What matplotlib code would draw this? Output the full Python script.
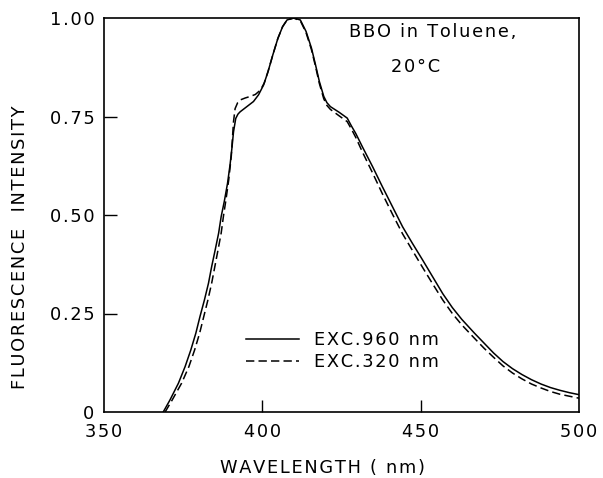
import matplotlib
matplotlib.use("Agg")
import matplotlib.pyplot as plt

# --- data ---
wl_960 = [368.7, 370.8, 373.5, 375.6, 377.4, 379.0, 380.3, 381.7, 383.0, 384.0, 385.1, 386.2,
          387.0, 388.0, 389.0, 389.8, 390.4, 390.9, 391.6, 392.3, 393.0, 395.1, 397.2, 398.8,
          400.4, 401.8, 403.3, 404.9, 406.4, 407.8, 409.9, 412.0, 413.8, 415.5, 416.8, 418.0,
          419.4, 420.4, 421.5, 424.2, 426.8, 428.2, 429.5, 431.6, 434.8, 437.9, 441.1, 444.3,
          447.4, 450.6, 453.8, 457, 460, 463, 467, 470, 473, 476, 479, 482, 485, 488, 491,
          494, 497, 500]
int_960 = [0.0, 0.03, 0.073, 0.115, 0.157, 0.20, 0.242, 0.284, 0.327, 0.369, 0.411, 0.454,
           0.496, 0.535, 0.58, 0.627, 0.67, 0.711, 0.745, 0.756, 0.762, 0.775, 0.788, 0.805,
           0.830, 0.864, 0.906, 0.948, 0.978, 0.995, 1.0, 0.995, 0.966, 0.924, 0.881, 0.839,
           0.801, 0.785, 0.775, 0.761, 0.746, 0.725, 0.707, 0.673, 0.623, 0.572, 0.521, 0.470,
           0.428, 0.386, 0.343, 0.30, 0.265, 0.235, 0.200, 0.175, 0.150, 0.128, 0.110, 0.095,
           0.082, 0.071, 0.062, 0.055, 0.049, 0.044]

wl_320 = [369.3, 371.5, 374.5, 376.8, 378.6, 380.2, 381.5, 382.8, 384.0, 385.0, 386.0, 387.0,
          387.7, 388.5, 389.4, 390.2, 390.9, 391.4, 392.2, 393.0, 394.6, 396.2, 397.8, 399.4,
          400.6, 401.8, 403.3, 404.9, 406.4, 407.8, 409.9, 412.0, 413.8, 415.5, 416.8, 418.0,
          419.4, 420.4, 421.5, 424.2, 426.8, 428.2, 429.5, 431.6, 434.8, 437.9, 441.1, 444.3,
          447.4, 450.6, 453.8, 457, 460, 463, 467, 470, 473, 476, 479, 482, 485, 488, 491,
          494, 497, 500]
int_320 = [0.0, 0.03, 0.073, 0.115, 0.157, 0.20, 0.242, 0.284, 0.327, 0.369, 0.411, 0.454,
           0.496, 0.538, 0.59, 0.65, 0.737, 0.77, 0.785, 0.792, 0.797, 0.801, 0.806, 0.817,
           0.835, 0.864, 0.906, 0.948, 0.978, 0.995, 1.0, 0.993, 0.963, 0.92, 0.877, 0.834,
           0.795, 0.778, 0.768, 0.752, 0.737, 0.717, 0.697, 0.66, 0.607, 0.554, 0.502, 0.452,
           0.41, 0.367, 0.325, 0.284, 0.250, 0.221, 0.187, 0.162, 0.139, 0.117, 0.099, 0.084,
           0.071, 0.061, 0.052, 0.045, 0.040, 0.035]

label_960 = "EXC.960 nm"
label_320 = "EXC.320 nm"
xticks = [350, 400, 450, 500]
xticklabels = ["350", "400", "450", "500"]
yticks = [0, 0.25, 0.5, 0.75, 1.0]
yticklabels = ["0", "0.25", "0.50", "0.75", "1.00"]

plt.rcParams['font.family'] = ['DejaVu Sans']
plt.rcParams['lines.scale_dashes'] = False

HS = "\u200a"


def spaced(s):
    return HS.join(s)


FS = 12.8
W, H = 603, 478
fig = plt.figure(figsize=(W / 100, H / 100), dpi=100)
L, R, B, T = 104, 579, 412, 18
ax = fig.add_axes([L / W, (H - B) / H, (R - L) / W, (B - T) / H])

ax.plot(wl_960, int_960, color='black', lw=1.1, label=spaced(label_960))
ax.plot(wl_320, int_320, color='black', lw=1.1, dashes=(6, 3), label=spaced(label_320))

ax.set_xlim(350, 500)
ax.set_ylim(0, 1.0)
ax.set_xticks(xticks)
ax.set_xticklabels([spaced(t) for t in xticklabels])
ax.set_yticks(yticks)
ax.set_yticklabels([spaced(t) for t in yticklabels])
ax.tick_params(direction='in', length=9, width=1.0, labelsize=FS, top=False, right=False)
ax.tick_params(axis='y', pad=7)
ax.tick_params(axis='x', pad=8)
for axis in (ax.xaxis, ax.yaxis):
    ticks = axis.get_major_ticks()
    for t in (ticks[0], ticks[-1]):
        t.tick1line.set_visible(False)
for s in ax.spines.values():
    s.set_linewidth(1.2)

fig.text(322 / W, 1 - 468 / H, spaced("WAVELENGTH ( nm)"), ha='center', va='center', fontsize=FS)
fig.text(20 / W, 1 - 247 / H, spaced("FLUORESCENCE  INTENSITY"), ha='center', va='center',
         rotation=90, fontsize=FS)

fig.text(433 / W, 1 - 32 / H, spaced("BBO in Toluene,"), ha='center', va='center', fontsize=FS)
fig.text(416 / W, 1 - 67 / H, spaced("20°C"), ha='center', va='center', fontsize=FS)

leg = ax.legend(frameon=False, fontsize=FS, handlelength=3.0, handletextpad=0.8,
                labelspacing=0.25, loc='upper left',
                bbox_to_anchor=(246 / W, 1 - 331 / H), bbox_transform=fig.transFigure,
                borderpad=0, borderaxespad=0)

fig.savefig("out.png", dpi=100)
